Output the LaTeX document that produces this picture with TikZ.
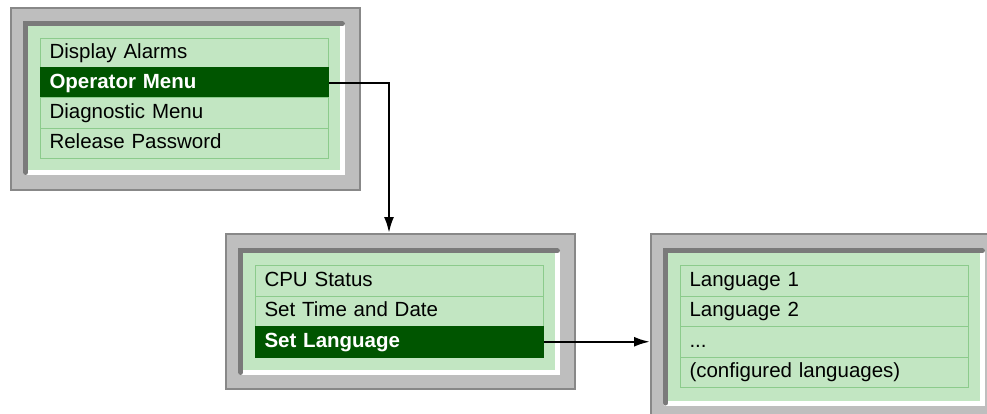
\documentclass[tikz,border=0pt]{standalone}
\usepackage{fontspec}
\setmainfont{Liberation Sans}
\usetikzlibrary{arrows.meta}
\definecolor{bezel}{HTML}{BEBEBE}
\definecolor{bezelline}{HTML}{888888}
\definecolor{shadow}{HTML}{7A7A7A}
\definecolor{screen}{HTML}{C2E6C2}
\definecolor{rowline}{HTML}{8CCB8C}
\definecolor{hilite}{HTML}{005500}
\tikzset{
  outerframe/.style={draw=bezelline, fill=bezel, line width=2pt, rectangle, inner sep=0pt, anchor=north west},
  row/.style={draw=rowline, fill=screen, line width=1pt, rectangle, anchor=north west, inner sep=0pt,
    minimum width=288pt, minimum height=30.5pt, text width=270pt, align=left,
    text height=15pt, text depth=4.5pt,
    font=\fontsize{20.5}{24}\selectfont, text=black},
  hrow/.style={row, fill=hilite, draw=hilite, text=white, font=\fontsize{20.5}{24}\selectfont\bfseries},
  conn/.style={line width=2.3pt, -{Latex[length=16pt,width=10pt]}},
}
\newcommand{\innerscreen}[4]{%
  \fill[screen] (#1,#2) rectangle (#3,#4);
  \draw[white, line width=5pt, line cap=round] (#1,#4) -- (#3,#4) -- (#3,#2);
  \draw[shadow, line width=5pt, line cap=round] (#1,#4) -- (#1,#2) -- (#3,#2);
}
\begin{document}
\begin{tikzpicture}[x=1pt,y=-1pt]
\useasboundingbox (0,0) rectangle (987,414);
\clip (0,0) rectangle (987,414);
% frame 1
\node[outerframe, minimum width=349pt, minimum height=182pt] (f1) at (10,7) {};
\innerscreen{25.5}{23.5}{342.5}{172.5}
\node[row] (a1) at (40,38) {Display Alarms};
\node[hrow] (a2) at (40,67.5) {Operator Menu};
\node[row] (a3) at (40,97.5) {Diagnostic Menu};
\node[row] (a4) at (40,128) {Release Password};
% frame 2
\node[outerframe, minimum width=349pt, minimum height=155pt] (f2) at (225,233) {};
\innerscreen{240.5}{250.5}{557.5}{372.5}
\node[row] (b1) at (255,265) {CPU Status};
\node[row] (b2) at (255,295.5) {Set Time and Date};
\node[hrow] (b3) at (255,326) {Set Language};
% frame 3
\node[outerframe, minimum width=350pt, minimum height=190pt] (f3) at (650,233) {};
\innerscreen{665.5}{250.5}{982.5}{403}
\node[row] (c1) at (680,265) {Language 1};
\node[row] (c2) at (680,295.5) {Language 2};
\node[row] (c3) at (680,326) {...};
\node[row] (c4) at (680,356.5) {(configured languages)};
% connectors
\coordinate (bend) at (389,82);
\draw[conn] (a2.east) -- (a2.east -| bend) -- (bend |- f2.north);
\draw[conn] (b3.east) -- (b3.east -| f3.west);
\end{tikzpicture}
\end{document}
